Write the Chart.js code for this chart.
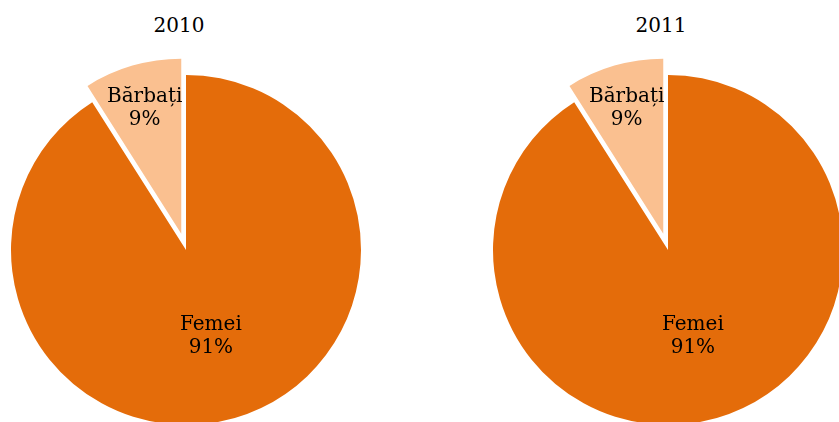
<!DOCTYPE html>
<html>
<head>
<meta charset="utf-8">
<script src="https://cdn.jsdelivr.net/npm/chart.js@4.4.0/dist/chart.umd.min.js"></script>
<style>
  html, body { margin: 0; padding: 0; background: #fff; overflow: hidden; width: 839px; height: 422px; }
  .wrap { position: absolute; top: 0; width: 372px; height: 500px; }
  .title { position: absolute; top: 13px; width: 200px; text-align: center;
    font: 20px/24px "DejaVu Serif", serif; color: #000; }
</style>
</head>
<body>
<div class="title" style="left:79px">2010</div>
<div class="title" style="left:561px">2011</div>
<div class="wrap" style="left:0px"><canvas id="pie2010"></canvas></div>
<div class="wrap" style="left:482px"><canvas id="pie2011"></canvas></div>
<script>
"use strict";

// Date: ponderea femeilor / bărbaților (%).
const categories = ["Femei", "Bărbați"];
const values2010 = [91, 9];
const values2011 = [91, 9];

const COLORS = ["#E46C0A", "#FAC090"];
// Felia „Bărbați” este detașată de restul plăcintei (px, pe bisectoare).
const OFFSETS = [0, 17];
// Poziția etichetei pe raza feliei (fracție din rază).
const LABEL_POS = [0.51, 0.75];

const $ = (id) => document.getElementById(id);

// Chart.js împarte offset-ul la 4 și mărește raza — desenăm noi felia detașată.
const explode = {
  id: "explode",
  beforeDatasetDraw(chart, args) {
    const ctx = chart.ctx;
    args.meta.data.forEach((arc, i) => {
      const mid = (arc.startAngle + arc.endAngle) / 2;
      ctx.save();
      ctx.translate(Math.cos(mid) * OFFSETS[i], Math.sin(mid) * OFFSETS[i]);
      arc.draw(ctx, chart.chartArea);
      ctx.restore();
    });
    return false;
  },
};

const sliceLabels = {
  id: "sliceLabels",
  afterDatasetsDraw(chart) {
    const ctx = chart.ctx;
    const meta = chart.getDatasetMeta(0);
    const data = chart.data.datasets[0].data;
    const total = data.reduce((a, b) => a + b, 0);
    ctx.save();
    ctx.font = '20px "DejaVu Serif", serif';
    ctx.fillStyle = "#000";
    ctx.textAlign = "center";
    ctx.textBaseline = "middle";
    meta.data.forEach((arc, i) => {
      const mid = (arc.startAngle + arc.endAngle) / 2;
      const r = OFFSETS[i] + LABEL_POS[i] * arc.outerRadius;
      const cx = arc.x + Math.cos(mid) * r;
      const cy = arc.y + Math.sin(mid) * r;
      const pct = Math.round(data[i] / total * 100) + "%";
      ctx.fillText(chart.data.labels[i], cx, cy - 11);
      ctx.fillText(pct, cx, cy + 12);
    });
    ctx.restore();
  },
};

function makePie(id, values) {
  return new Chart($(id), {
    type: "pie",
    data: {
      labels: categories,
      datasets: [{
        data: values,
        backgroundColor: COLORS,
        borderWidth: 0,
      }],
    },
    options: {
      responsive: true,
      maintainAspectRatio: false,
      animation: false,
      radius: 175,
      layout: { padding: 0 },
      plugins: { legend: { display: false }, tooltip: { enabled: false } },
    },
    plugins: [explode, sliceLabels],
  });
}

makePie("pie2010", values2010);
makePie("pie2011", values2011);
</script>
</body>
</html>
